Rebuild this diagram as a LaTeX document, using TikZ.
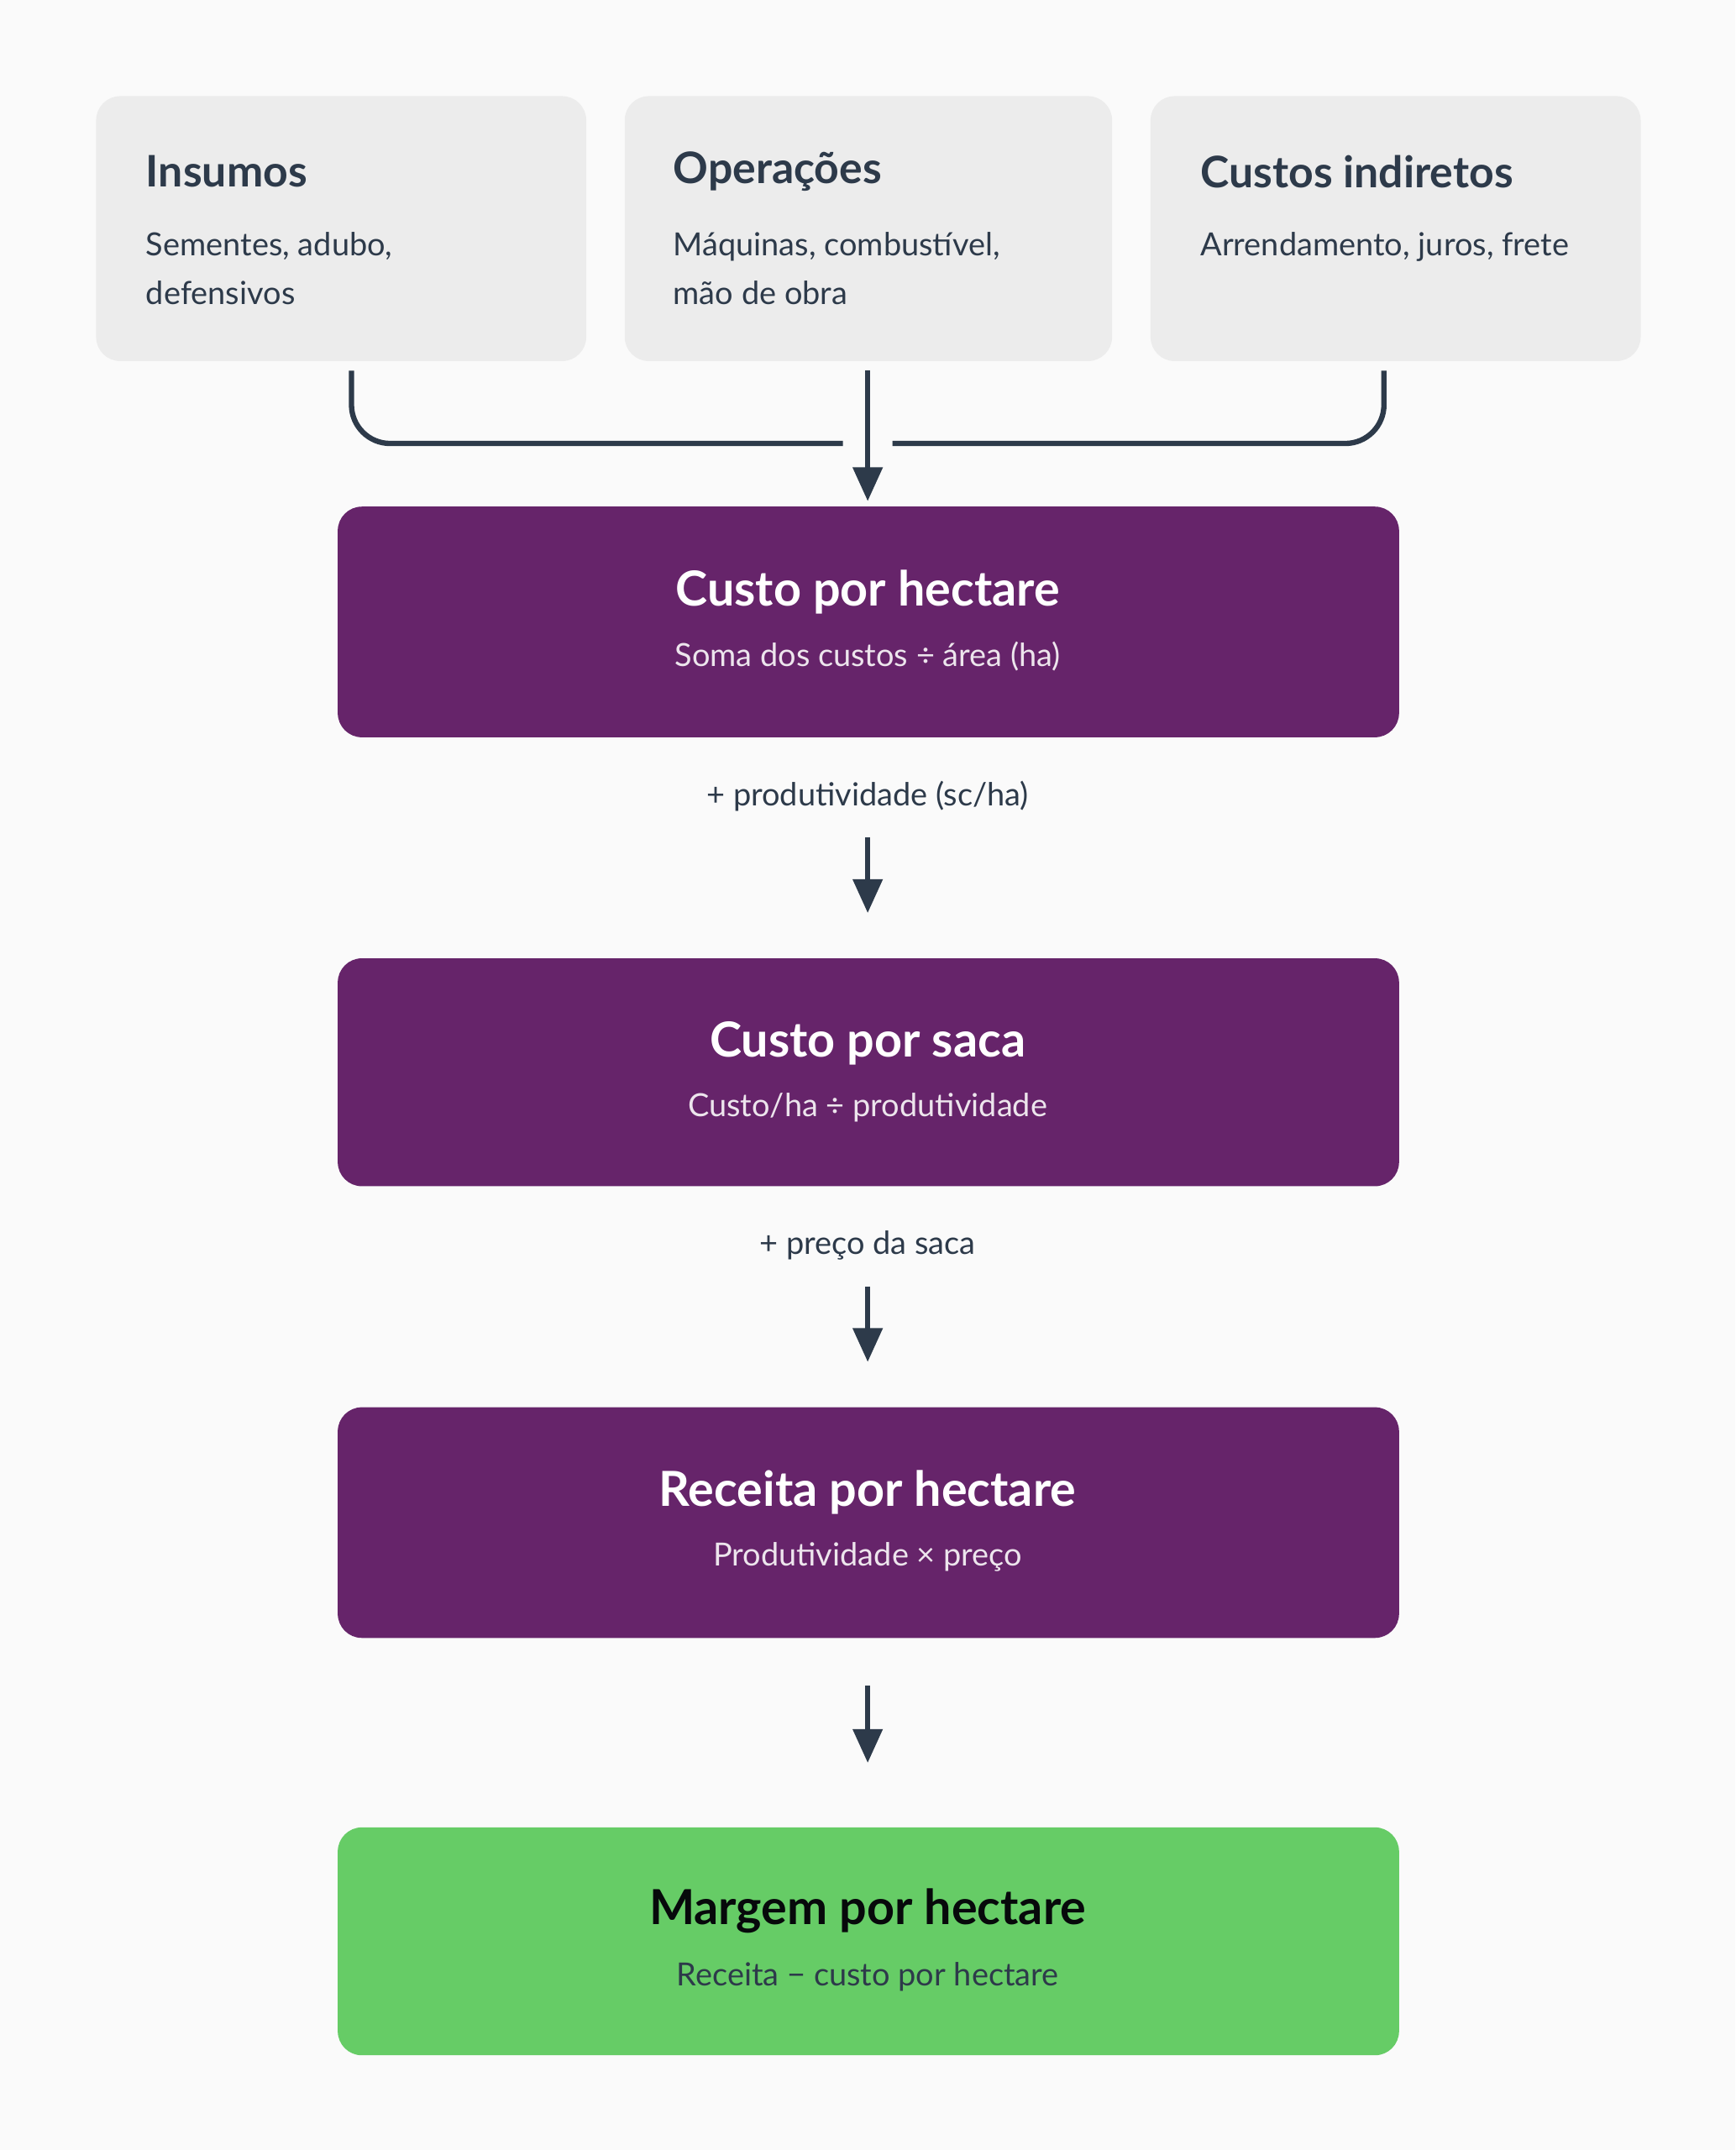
\documentclass[tikz,border=0pt]{standalone}
\usepackage{fontspec}
\setmainfont{Lato}
\usetikzlibrary{arrows.meta,positioning}
\definecolor{ink}{HTML}{2D3A4A}
\definecolor{roxo}{HTML}{66246A}
\definecolor{verde}{HTML}{66CC66}
\definecolor{cinza}{HTML}{ECECEC}
\begin{document}
\begin{tikzpicture}[x=0.01cm, y=-0.01cm, >={Triangle[length=7pt,width=6pt]}]
\tikzset{
  topbox/.style={fill=cinza, rounded corners=5pt},
  bigbox/.style={fill=roxo, rounded corners=5pt},
  toptitle/.style={anchor=west, text=ink, font=\fontsize{9}{11}\selectfont\bfseries},
  topsub/.style={anchor=west, text=ink, font=\fontsize{6.6}{10}\selectfont, align=left},
  bigtitle/.style={text=white, font=\fontsize{10}{12}\selectfont\bfseries},
  bigsub/.style={text=white!88!roxo, font=\fontsize{6.6}{8}\selectfont},
  flow/.style={draw=ink, line width=1.1pt},
  steplabel/.style={text=ink, font=\fontsize{6.6}{8}\selectfont}
}
\fill[white!98!black] (0,0) rectangle (1264,1566);
\useasboundingbox (0,0) rectangle (1264,1566);

% caixas de custo
\fill[topbox] (70,70) rectangle (427,263);
\fill[topbox] (455,70) rectangle (810,263);
\fill[topbox] (838,70) rectangle (1195,263);
\node[toptitle] (Ins) at (94,125) {Insumos};
\node[topsub, anchor=north west] (InsT) at (94,157) {Sementes, adubo,\\defensivos};
\node[toptitle] (Op) at (478,125) {Operações};
\node[topsub, anchor=north west] (OpT) at (478,157) {Máquinas, combustível,\\mão de obra};
\node[toptitle] (Ci) at (862,125) {Custos indiretos};
\node[topsub, anchor=north west] (CiT) at (862,157) {Arrendamento, juros, frete};

\coordinate (a1) at (256,270);
\coordinate (a2) at (614,323);
\coordinate (a3) at (1008,270);
\coordinate (a4) at (650,323);
\coordinate (a5) at (632,270);
\draw[flow, rounded corners=8pt] (a1) |- (a2);
\draw[flow, rounded corners=8pt] (a3) |- (a4);

% etapas
\fill[bigbox] (246,369) rectangle (1019,537);
\node[bigtitle] (CH) at (632,431) {Custo por hectare};
\node[bigsub] (CHs) at (632,478) {Soma dos custos ÷ área (ha)};
\coordinate (b1) at (632,365);
\draw[flow,->] (a5) -- (b1);

\node[steplabel] (L1) at (632,580) {+ produtividade (sc/ha)};
\coordinate (c1) at (632,610);
\coordinate (c2) at (632,665);
\draw[flow,->] (c1) -- (c2);

\fill[bigbox] (246,698) rectangle (1019,864);
\node[bigtitle] (CS) at (632,760) {Custo por saca};
\node[bigsub] (CSs) at (632,807) {Custo/ha ÷ produtividade};

\node[steplabel] (L2) at (632,907) {+ preço da saca};
\coordinate (d1) at (632,937);
\coordinate (d2) at (632,992);
\draw[flow,->] (d1) -- (d2);

\fill[bigbox] (246,1025) rectangle (1019,1193);
\node[bigtitle] (RH) at (632,1087) {Receita por hectare};
\node[bigsub] (RHs) at (632,1134) {Produtividade × preço};

\coordinate (e1) at (632,1228);
\coordinate (e2) at (632,1284);
\draw[flow,->] (e1) -- (e2);

\fill[fill=verde, rounded corners=5pt] (246,1331) rectangle (1019,1497);
\node[bigtitle, text=black!85!ink] (MH) at (632,1392) {Margem por hectare};
\node[bigsub, text=ink] (MHs) at (632,1440) {Receita − custo por hectare};
\end{tikzpicture}
\end{document}
